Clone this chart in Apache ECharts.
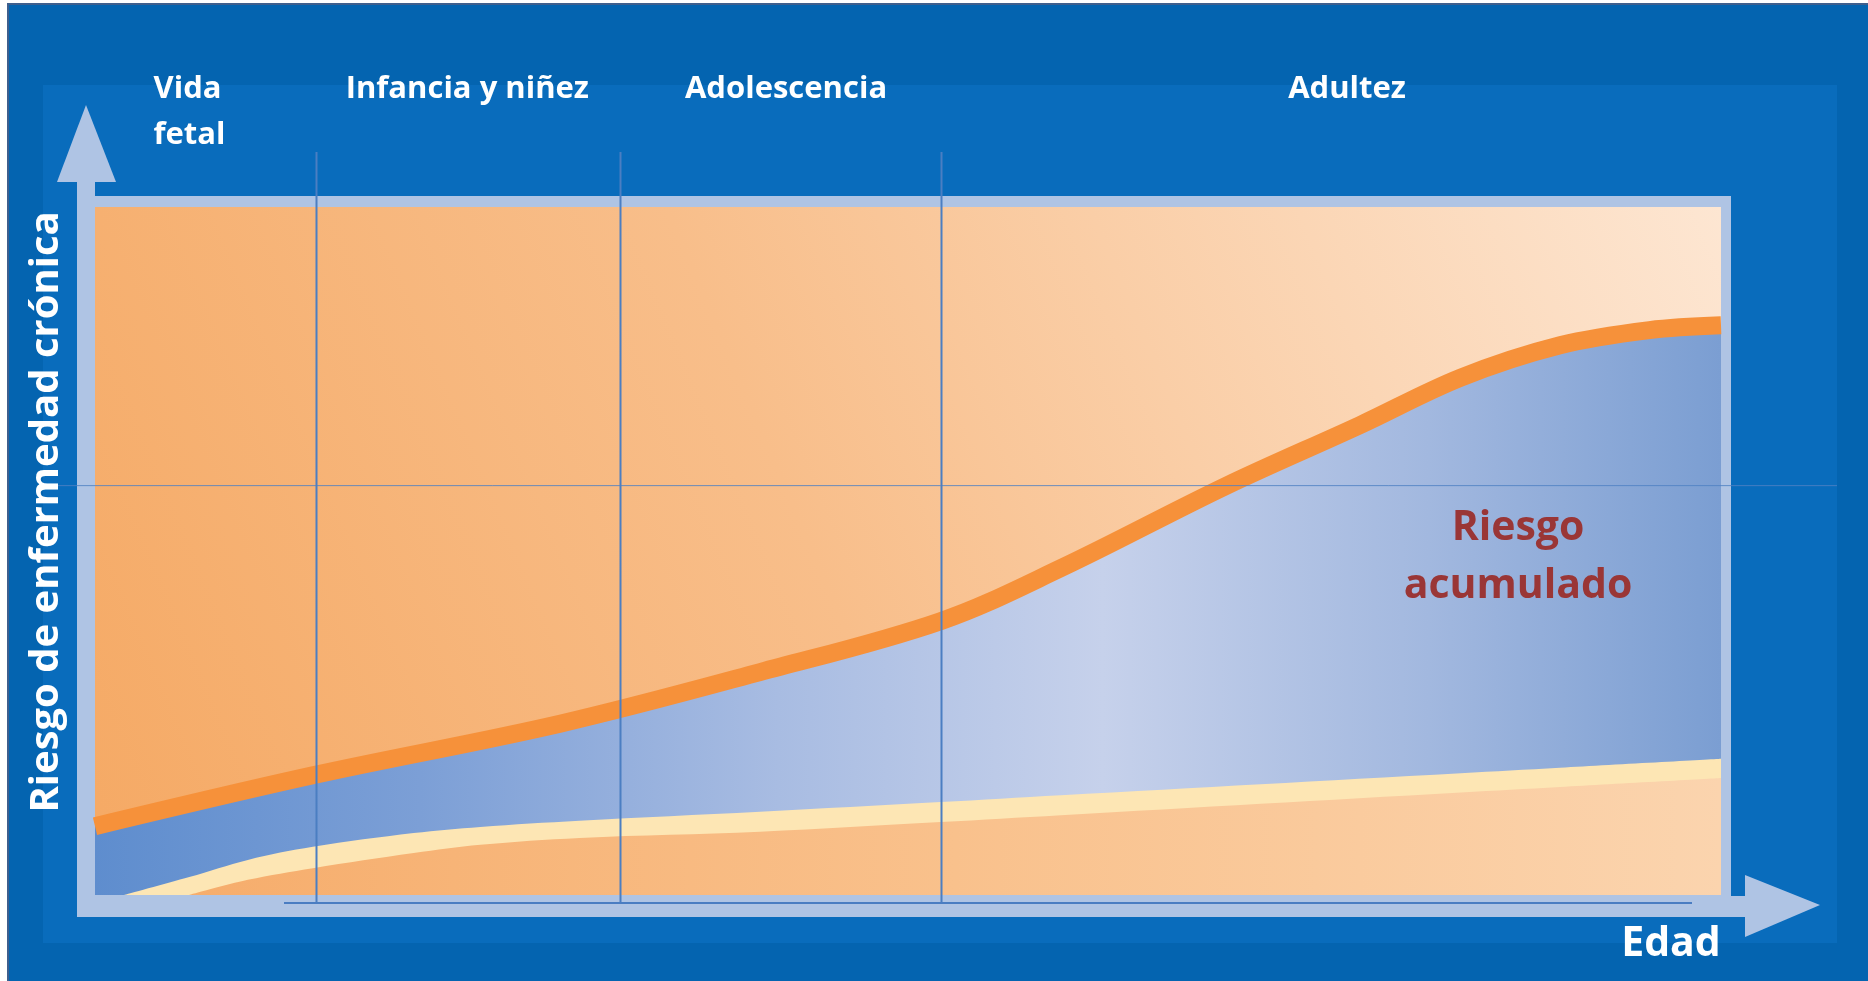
<!DOCTYPE html>
<html>
<head>
<meta charset="utf-8">
<script src="https://cdn.jsdelivr.net/npm/echarts@6/dist/echarts.min.js"></script>
<style>
  html, body { margin: 0; padding: 0; background: #ffffff; }
  #chart { width: 1868px; height: 981px; }
</style>
</head>
<body>
<div id="chart"></div>
<script>
// ---- Data (age on a 0-100 scale, risk on a 0-100 scale) ----
const stageNames = ['Vida\nfetal', 'Infancia y niñez', 'Adolescencia', 'Adultez'];
const stageLabelAges = [3.6, 22.9, 42.5, 77.0];
const stageBounds = [13.6, 32.3, 52.0];

// upper curve: total (accumulated) chronic disease risk
const riskAges  = [0, 13.4, 28.6, 40.9, 52.0, 59.4, 69.6, 77.8, 84.0, 90.1, 95.6, 100];
const riskTotal = [10.0, 17.4, 24.9, 32.4, 39.8, 47.5, 59.5, 68.3, 75.2, 79.9, 82.1, 82.8];

// light band: upper edge
const bandAges = [1.8, 5.8, 9.4, 13.4, 19.6, 23.7, 29.8, 40.9, 52.0, 59.4, 84.0, 90.1, 100];
const bandTop  = [0, 2.6, 5.1, 7.0, 9.0, 9.9, 10.8, 12.1, 13.5, 14.5, 17.7, 18.5, 19.8];

// baseline risk (lower orange region)
const baseAges = [5.8, 9.4, 13.4, 19.6, 23.7, 29.8, 40.9, 52.0, 59.4, 84.0, 90.1, 100];
const baseRisk = [0, 2.2, 3.9, 6.1, 7.3, 8.3, 9.2, 10.6, 11.6, 14.9, 15.7, 17.0];

const refLevel = 59.5;   // thin horizontal guide line

const yTitle = 'Riesgo de enfermedad crónica';
const xTitle = 'Edad';
const areaLabel = 'Riesgo\nacumulado';

function pairs(xs, ys) { return xs.map((x, i) => [x, ys[i]]); }

const chart = echarts.init(document.getElementById('chart'), null, { renderer: 'canvas' });

const FONT = '"Open Sans", "DejaVu Sans", sans-serif';

const option = {
  animation: false,
  grid: {
    left: 95, right: 147, top: 207, bottom: 86,
    show: true, borderWidth: 0, z: 1,
    backgroundColor: new echarts.graphic.LinearGradient(0, 1, 1, 0, [
      { offset: 0, color: '#F5A964' },
      { offset: 0.45, color: '#F8BE8A' },
      { offset: 1, color: '#FDE6D2' }
    ])
  },
  xAxis: {
    type: 'value', min: 0, max: 100,
    axisLine: { show: false }, axisTick: { show: false },
    axisLabel: { show: false }, splitLine: { show: false }
  },
  yAxis: {
    type: 'value', min: 0, max: 100,
    axisLine: { show: false }, axisTick: { show: false },
    axisLabel: { show: false }, splitLine: { show: false }
  },
  series: [
    {
      name: 'Riesgo acumulado',
      type: 'line', z: 3, silent: true,
      data: pairs(riskAges, riskTotal),
      smooth: 0.35,
      symbol: 'none',
      lineStyle: { color: '#F6913A', width: 18, cap: 'butt', join: 'round' },
      areaStyle: {
        opacity: 1,
        color: new echarts.graphic.LinearGradient(0, 0, 1, 0, [
          { offset: 0, color: '#5E8DCE' },
          { offset: 0.2, color: '#7C9FD6' },
          { offset: 0.42, color: '#A8BCE2' },
          { offset: 0.62, color: '#C6D1EB' },
          { offset: 0.82, color: '#A2B8DF' },
          { offset: 1, color: '#7B9ED2' }
        ])
      }
    },
    {
      name: 'Banda',
      type: 'line', z: 4, silent: true,
      data: pairs(bandAges, bandTop),
      smooth: 0.35,
      symbol: 'none',
      lineStyle: { width: 0 },
      areaStyle: { opacity: 1, color: '#FDE6B4' }
    },
    {
      name: 'Riesgo basal',
      type: 'line', z: 5, silent: true,
      data: pairs(baseAges, baseRisk),
      smooth: 0.35,
      symbol: 'none',
      lineStyle: { width: 0 },
      areaStyle: {
        opacity: 1,
        color: new echarts.graphic.LinearGradient(0, 0, 1, 0, [
          { offset: 0, color: '#F6AD6C' },
          { offset: 0.5, color: '#F9C18C' },
          { offset: 1, color: '#FBD4AE' }
        ])
      }
    }
  ]
};

chart.setOption(option);

// ---- Decorations positioned through the chart's own scales ----
const px = (x, y) => chart.convertToPixel({ gridIndex: 0 }, [x, y]);
const origin = px(0, 0);
const corner = px(100, 100);
const gL = origin[0], gB = origin[1], gR = corner[0], gT = corner[1];

const light = '#AFC4E4';
const g = [];

// backgrounds
g.push({ type: 'rect', z: -30, silent: true,
  shape: { x: 8, y: 4, width: 1870, height: 990 },
  style: { fill: '#0464B0', stroke: '#3E5F8E', lineWidth: 2 } });
g.push({ type: 'rect', z: -29, silent: true,
  shape: { x: 43, y: 85, width: 1794, height: 858 },
  style: { fill: '#096CBC' } });

// frame around plot + axis shafts
g.push({ type: 'rect', z: -20, silent: true,
  shape: { x: gL - 18, y: gT - 11, width: (gR + 10) - (gL - 18), height: (gB + 22) - (gT - 11) },
  style: { fill: light } });
g.push({ type: 'rect', z: -20, silent: true,
  shape: { x: gL - 18, y: 180, width: 18, height: gT - 180 },
  style: { fill: light } });
g.push({ type: 'polygon', z: -20, silent: true,
  shape: { points: [[gL - 9, 105], [gL - 38, 182], [gL + 21, 182]] },
  style: { fill: light } });
g.push({ type: 'rect', z: -20, silent: true,
  shape: { x: gR, y: gB + 1, width: 1747 - gR, height: 21 },
  style: { fill: light } });
g.push({ type: 'polygon', z: -20, silent: true,
  shape: { points: [[1745, 875], [1820, 905], [1745, 937]] },
  style: { fill: light } });

// thin line along bottom
g.push({ type: 'line', z: 20, silent: true,
  shape: { x1: 284, y1: gB + 8, x2: 1692, y2: gB + 8 },
  style: { stroke: '#4A7DC2', lineWidth: 2 } });

// horizontal reference line
const ry = px(0, refLevel)[1];
g.push({ type: 'line', z: 20, silent: true,
  shape: { x1: 44, y1: ry, x2: 1837, y2: ry },
  style: { stroke: '#4F80C2', lineWidth: 1, opacity: 0.85 } });

// stage boundaries
stageBounds.forEach(b => {
  const x = Math.round(px(b, 0)[0]) + 0.5;
  g.push({ type: 'line', z: 20, silent: true,
    shape: { x1: x, y1: 152, x2: x, y2: gB + 8 },
    style: { stroke: '#4B7EC2', lineWidth: 2 } });
});

// stage labels
stageNames.forEach((name, i) => {
  const x = px(stageLabelAges[i], 0)[0];
  const first = i === 0;
  g.push({ type: 'text', z: 30, silent: true,
    x: x, y: first ? 112 : 89,
    style: {
      text: name, fill: '#FFFFFF',
      font: 'bold 31px ' + FONT,
      align: first ? 'left' : 'center', verticalAlign: 'middle',
      lineHeight: 46
    } });
});

// y title
g.push({ type: 'text', z: 30, silent: true,
  x: 47, y: 512, rotation: Math.PI / 2,
  style: { text: yTitle, fill: '#FFFFFF', font: 'bold 40px ' + FONT,
    align: 'center', verticalAlign: 'middle' } });

// x title
g.push({ type: 'text', z: 30, silent: true,
  x: 1671, y: 944,
  style: { text: xTitle, fill: '#FFFFFF', font: 'bold 41px ' + FONT,
    align: 'center', verticalAlign: 'middle' } });

// area annotation
g.push({ type: 'text', z: 30, silent: true,
  x: 1518, y: 557,
  style: { text: areaLabel, fill: '#9A3636', font: 'bold 41px ' + FONT,
    align: 'center', verticalAlign: 'middle', lineHeight: 58 } });

chart.setOption({ graphic: g });
</script>
</body>
</html>
